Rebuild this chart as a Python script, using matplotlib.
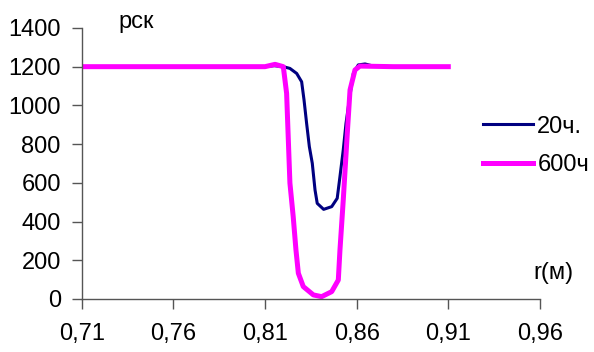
import matplotlib
matplotlib.use("Agg")
import matplotlib.pyplot as plt

plt.rcParams['font.family'] = ['Liberation Sans', 'DejaVu Sans']

# r (m) and p values
r_20 = [0.71, 0.81, 0.815, 0.820, 0.8236, 0.8273, 0.830, 0.8313, 0.8327, 0.8342,
        0.8358, 0.8373, 0.8385, 0.8420, 0.8464, 0.8494, 0.8509, 0.8527, 0.8542,
        0.856, 0.8582, 0.8609, 0.8646, 0.8691, 0.88, 0.91]
p_20 = [1200, 1200, 1205, 1200, 1191, 1165, 1122, 1028, 908, 787,
        701, 563, 494, 463, 477, 520, 632, 770, 907,
        1028, 1165, 1209, 1214, 1203, 1200, 1200]

r_600 = [0.71, 0.81, 0.8155, 0.820, 0.8218, 0.8236, 0.8254, 0.8269, 0.8282, 0.8309,
         0.8364, 0.8409, 0.8464, 0.850, 0.8509, 0.8527, 0.8549, 0.8564, 0.8591,
         0.8618, 0.88, 0.91]
p_600 = [1200, 1200, 1212, 1200, 1062, 599, 425, 253, 133, 64,
         21, 12, 38, 98, 253, 511, 856, 1080, 1183,
         1203, 1200, 1200]

x_ticks = [0.71, 0.76, 0.81, 0.86, 0.91, 0.96]
y_ticks = [0, 200, 400, 600, 800, 1000, 1200, 1400]

fs = 17

fig = plt.figure(figsize=(5.94, 3.52), dpi=100)
ax = fig.add_axes([0.1375, 0.1506, 0.7715, 0.77])

ax.plot(r_20, p_20, color='#000080', lw=2.2, label='20ч.', solid_joinstyle='round')
ax.plot(r_600, p_600, color='#ff00ff', lw=3.6, label='600ч', solid_joinstyle='round')

ax.set_xlim(0.71, 0.96)
ax.set_ylim(0, 1400)
ax.set_xticks(x_ticks)
ax.set_xticklabels([f"{t:.2f}".replace('.', ',') for t in x_ticks])
ax.set_yticks(y_ticks)

for s in ['top', 'right']:
    ax.spines[s].set_visible(False)
for s in ['left', 'bottom']:
    ax.spines[s].set_color('#555555')
    ax.spines[s].set_linewidth(1.0)
ax.tick_params(axis='both', labelsize=fs, length=7, width=1, color='#555555')
ax.tick_params(axis='y', pad=8)
ax.tick_params(axis='x', pad=10)

fig.text(118 / 594, 1 - 22 / 352, 'рск', fontsize=fs, va='center', ha='left')
fig.text(533 / 594, 1 - 273 / 352, 'r(м)', fontsize=fs, va='center', ha='left')

fig.legend(loc='center left', bbox_to_anchor=(483 / 594, 1 - 146 / 352),
           frameon=False, fontsize=fs, handlelength=2.1, handletextpad=0.2,
           labelspacing=0.7, borderpad=0, borderaxespad=0)

fig.savefig('out.png', dpi=100)
